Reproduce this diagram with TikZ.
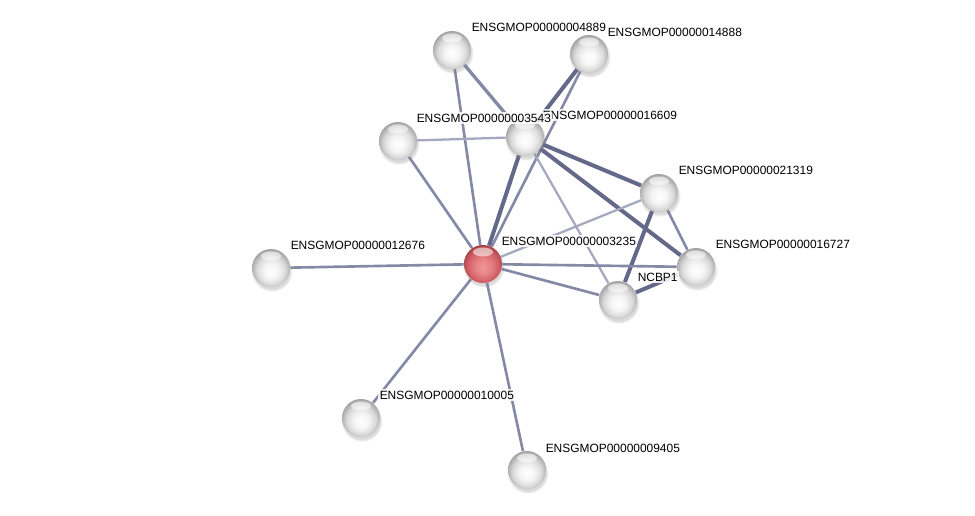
\documentclass[tikz,border=0pt]{standalone}
\usepackage{fontspec}
\setmainfont{Liberation Sans}
\usepackage{xcolor}
\usepackage{tikz}
\usetikzlibrary{shadows,backgrounds}
\definecolor{EdgeLight}{RGB}{165,169,192}
\definecolor{EdgeMid}{RGB}{132,137,166}
\definecolor{EdgeDark}{RGB}{100,105,138}
\definecolor{QueryLo}{RGB}{242,150,152}
\definecolor{QueryMid}{RGB}{212,100,106}
\definecolor{QueryRim}{RGB}{140,45,50}
\pgfdeclareradialshading{protball}{\pgfqpoint{0bp}{-5bp}}{%
  color(0bp)=(white); color(10bp)=(gray!8); color(19bp)=(gray!30);
  color(25bp)=(gray!62); color(29bp)=(gray!82); color(50bp)=(gray!82)}
\pgfdeclareradialshading{queryball}{\pgfqpoint{0bp}{-5bp}}{%
  color(0bp)=(QueryLo); color(10bp)=(QueryLo!60!QueryMid); color(19bp)=(QueryMid);
  color(25bp)=(QueryMid!60!QueryRim); color(29bp)=(QueryRim); color(50bp)=(QueryRim)}

\begin{document}
\begin{tikzpicture}[x=0.02cm,y=-0.02cm,
        prot/.style={circle,minimum size=0.76cm,inner sep=0pt,shading=protball,
                     circular drop shadow={shadow xshift=0.4pt,shadow yshift=-1.5pt,opacity=0.3},
                     path picture={\fill[white,opacity=0.55] ([yshift=-0.14cm]path picture bounding box.north)
                       ellipse (0.2cm and 0.09cm);}},
        qprot/.style={prot,shading=queryball},
        lbl/.style={anchor=west,font=\fontsize{6.8}{8}\selectfont,inner sep=0.8pt,
                    fill=white,fill opacity=0.85,text opacity=1},
        lnk/.style={EdgeMid,line width=1.5pt},
        lite/.style={EdgeLight,line width=1.3pt},
        thk/.style={EdgeDark,line width=2.3pt}
      ]
        \useasboundingbox (0,0) rectangle (975,515);
        % proteins
        \node[prot] (P4889) at (452,50) {};
        \node[prot] (P14888) at (589,54) {};
        \node[prot] (P3543) at (398,141) {};
        \node[prot] (P16609) at (525,137) {};
        \node[prot] (P21319) at (659,193) {};
        \node[prot] (P16727) at (696,267) {};
        \node[qprot] (P3235) at (483,264) {};
        \node[prot] (PNCBP1) at (618,300) {};
        \node[prot] (P12676) at (271,268) {};
        \node[prot] (P10005) at (361,418) {};
        \node[prot] (P9405) at (527,470) {};
        % labels
        \node[lbl] (L4889) at (470,27) {ENSGMOP00000004889};
        \node[lbl] (L14888) at (606,32) {ENSGMOP00000014888};
        \node[lbl] (L16609) at (541,115) {ENSGMOP00000016609};
        \node[lbl] (L3543) at (415,118) {ENSGMOP00000003543};
        \node[lbl] (L21319) at (677,170) {ENSGMOP00000021319};
        \node[lbl] (L16727) at (714,244) {ENSGMOP00000016727};
        \node[lbl] (L3235) at (500,241) {ENSGMOP00000003235};
        \node[lbl] (LNCBP1) at (636,277) {NCBP1};
        \node[lbl] (L12676) at (289,245) {ENSGMOP00000012676};
        \node[lbl] (L10005) at (378,395) {ENSGMOP00000010005};
        \node[lbl] (L9405) at (544,448) {ENSGMOP00000009405};
        % edges
        \begin{scope}[on background layer]
          \draw[lnk] (P4889)--(P3235);
          \draw[lnk,line width=1.9pt] (P4889)--(P16609);
          \draw[thk] (P14888)--(P16609);
          \draw[lnk] (P14888)--(P3235);
          \draw[lite] (P3543)--(P16609);
          \draw[lnk] (P3543)--(P3235);
          \draw[thk] (P16609)--(P3235);
          \draw[thk] (P16609)--(P21319);
          \draw[thk] (P16609)--(P16727);
          \draw[lite] (P16609)--(PNCBP1);
          \draw[lite] (P21319)--(P3235);
          \draw[lnk] (P21319)--(P16727);
          \draw[thk] (P21319)--(PNCBP1);
          \draw[thk] (P16727)--(PNCBP1);
          \draw[lnk] (P16727)--(P3235);
          \draw[lnk] (PNCBP1)--(P3235);
          \draw[lnk] (P12676)--(P3235);
          \draw[lnk] (P10005)--(P3235);
          \draw[lnk] (P9405)--(P3235);
        \end{scope}
      \end{tikzpicture}
\end{document}
